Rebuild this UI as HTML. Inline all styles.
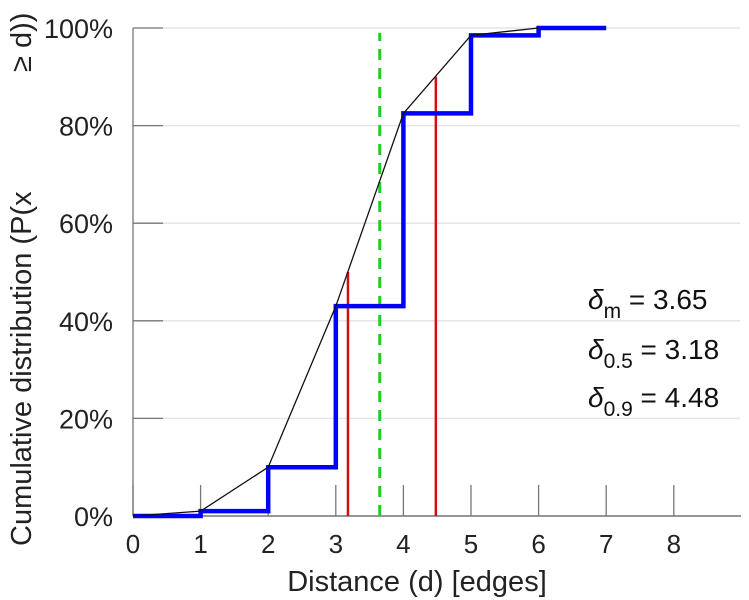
<!DOCTYPE html>
<html><head><meta charset="utf-8"><style>
html,body{margin:0;padding:0;background:#fff}
svg{display:block;font-family:"Liberation Sans",sans-serif}
</style></head><body>
<svg id="chart" width="749" height="600" viewBox="0 0 749 600" xmlns="http://www.w3.org/2000/svg">
<g id="grid"></g>
<g id="axes"></g>
<g id="marks"></g>
<text x="417" y="591" font-size="29" text-anchor="middle" fill="#222">Distance (d) [edges]</text>
<text transform="translate(31,546) rotate(-90)" font-size="29" fill="#222">Cumulative distribution (P(x</text>
<text transform="translate(31,72) rotate(-90)" font-size="29" fill="#222">≥ d))</text>
<g font-size="28" fill="#111">
<text x="588" y="309"><tspan font-style="italic">δ</tspan><tspan font-size="21" dy="9">m</tspan><tspan dy="-9"> = 3.65</tspan></text>
<text x="588" y="359"><tspan font-style="italic">δ</tspan><tspan font-size="21" dy="9">0.5</tspan><tspan dy="-9"> = 3.18</tspan></text>
<text x="588" y="407"><tspan font-style="italic">δ</tspan><tspan font-size="21" dy="9">0.9</tspan><tspan dy="-9"> = 4.48</tspan></text>
</g>
</svg>
<script>
const distances=[0,1,2,3,4,5,6,7];
const stepValues=[0,1,10,43,82.5,98.5,100];
const lineX=[0,1,2,3,4,5,6];
const lineValues=[0,1,10,43,82.5,98.5,100];
const meanValue=3.65;
const quantileX=[3.18,4.48];
const quantileY=[50,90];
const xTicks=[0,1,2,3,4,5,6,7,8];
const yTicks=[0,20,40,60,80,100];

const NS="http://www.w3.org/2000/svg";
const X0=133,XU=67.6,Y0=516,YU=4.88;
const sx=v=>X0+v*XU, sy=v=>Y0-v*YU;
function mk(parent,tag,attrs){const e=document.createElementNS(NS,tag);for(const k in attrs)e.setAttribute(k,attrs[k]);document.getElementById(parent).appendChild(e);return e;}

yTicks.forEach(t=>{
 const g=mk('grid','line',{x1:X0,x2:740,y1:sy(t),y2:sy(t),stroke:'#e6e6e6','stroke-width':1.5});
 
 
 const tk=mk('axes','line',{x1:X0,x2:X0+30,y1:sy(t),y2:sy(t),stroke:'#777','stroke-width':1.3});
 
 
 const lb=mk('axes','text',{x:113,y:sy(t)+10,'font-size':27,'text-anchor':'end',fill:'#222'});
 lb.textContent=t+'%';
 
 
});
const ya=mk('axes','line',{x1:X0,x2:X0,y1:sy(100),y2:Y0,stroke:'#777','stroke-width':1.3});


const xa=mk('axes','line',{x1:X0,x2:741,y1:Y0,y2:Y0,stroke:'#777','stroke-width':1.5});


xTicks.forEach(t=>{
 const tk=mk('axes','line',{x1:sx(t),x2:sx(t),y1:Y0,y2:Y0-31,stroke:'#777','stroke-width':1.3});
 
 
 const lb=mk('axes','text',{x:sx(t),y:553,'font-size':26,'text-anchor':'middle',fill:'#222'});
 lb.textContent=t;
 
 
});
const gm=mk('marks','line',{x1:sx(meanValue),x2:sx(meanValue),y1:Y0,y2:sy(99),stroke:'#22cc22','stroke-width':3,'stroke-dasharray':'11,8'});


quantileX.forEach((q,i)=>{
 const r=mk('marks','line',{x1:sx(q),x2:sx(q),y1:Y0,y2:sy(quantileY[i]),stroke:'#d01010','stroke-width':2.5});
 
 
});
let d='';
stepValues.forEach((v,i)=>{d+=(i?'L':'M')+sx(distances[i])+','+sy(v)+'L'+sx(distances[i+1])+','+sy(v);});
const st=mk('marks','path',{d:d,fill:'none',stroke:'#0000ff','stroke-width':4.5});


const bl=mk('marks','polyline',{points:lineX.map((x,i)=>sx(x)+','+sy(lineValues[i])).join(' '),fill:'none',stroke:'#111','stroke-width':1.3});


</script>
</body></html>
